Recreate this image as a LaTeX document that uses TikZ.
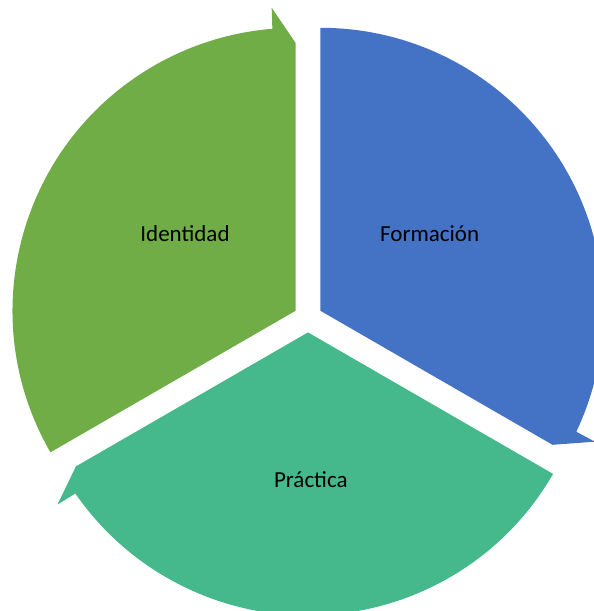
\documentclass[tikz,border=0pt]{standalone}
\usepackage{fontspec}
\setmainfont{Carlito}
\definecolor{segGreen}{HTML}{70AD47}
\definecolor{segBlue}{HTML}{4472C4}
\definecolor{segTeal}{HTML}{45B88C}
\begin{document}
\begin{tikzpicture}[x=1pt,y=1pt,
  seglabel/.style={anchor=base,inner sep=0pt,text=black,font=\fontsize{23}{27}\selectfont}]
\useasboundingbox (0,0) rectangle (594,-611);
\clip (0,0) rectangle (594,-611);
% one arrow segment per colour, rotated about the centre
\foreach \rot/\col in {0/segGreen,-120/segBlue,-240/segTeal}{
  \begin{scope}[shift={(308,-318)},rotate=\rot,shift={(150:14.4)}]
    \fill[\col] (0,0) -- (210:283)
      arc[start angle=210,end angle=94.7,radius=283]
      -- (94.5:304) -- (90:268) -- cycle;
  \end{scope}
}
\node[seglabel] (identidad) at (185,-241.7) {Identidad};
\node[seglabel] (formacion) at (429.7,-241.7) {Formación};
\node[seglabel] (practica) at (310.8,-487.3) {Práctica};
\end{tikzpicture}
\end{document}
